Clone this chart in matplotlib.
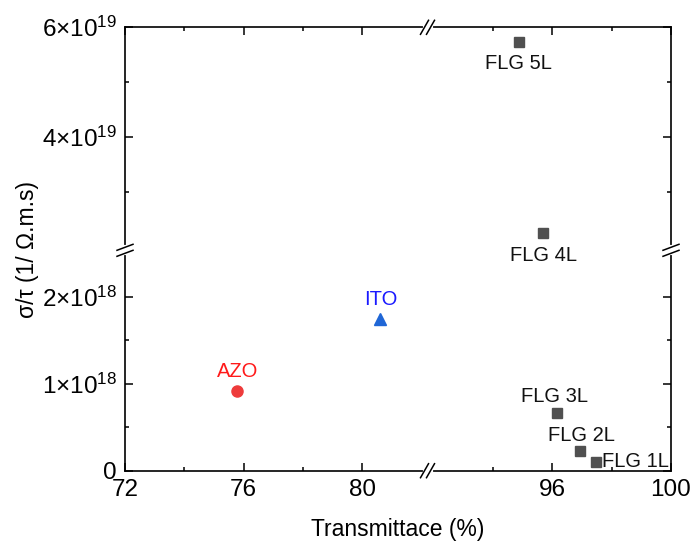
import numpy as np
import matplotlib
matplotlib.use("Agg")
import matplotlib.pyplot as plt
from matplotlib.ticker import FixedLocator, FixedFormatter

plt.rcParams['font.family'] = ['Liberation Sans', 'DejaVu Sans']
plt.rcParams['mathtext.default'] = 'regular'

# data
flg_names = ['FLG 1L', 'FLG 2L', 'FLG 3L', 'FLG 4L', 'FLG 5L']
flg_T = [97.48, 96.92, 96.16, 95.7, 94.86]
flg_s = [0.103e18, 0.23e18, 0.667e18, 2.25e19, 5.74e19]
azo_T, azo_s = [75.76], [0.92e18]
ito_T, ito_s = [80.61], [1.74e18]

x_ticks = [72, 76, 80, 96, 100]
x_minor = [74, 78, 94, 98]
y_ticks = [0, 1e18, 2e18, 4e19, 6e19]
y_labels = ['0', '1×10$^{18}$', '2×10$^{18}$', '4×10$^{19}$', '6×10$^{19}$']
y_minor = [0.5e18, 1.5e18, 3e19, 5e19]

# broken axes: piecewise linear scales
xk = np.array([72.0, 82.2, 91.8, 100.0])
xv = np.array([0.0, 10.2, 10.21, 18.41])
yk = np.array([0.0, 2.5e18, 2.0e19, 6.0e19])
yv = np.array([0.0, 2.5, 2.57, 2.57 + 4 * 0.632])


def pw(k, v):
    def f(a):
        a = np.asarray(a, dtype=float)
        out = np.interp(a, k, v)
        lo = a < k[0]
        hi = a > k[-1]
        out = np.where(lo, v[0] + (a - k[0]) * (v[1] - v[0]) / (k[1] - k[0]), out)
        out = np.where(hi, v[-1] + (a - k[-1]) * (v[-1] - v[-2]) / (k[-1] - k[-2]), out)
        return out
    return f


fig = plt.figure(figsize=(6.94, 5.43), dpi=100)
ax = fig.add_axes([125 / 694, 1 - 470.7 / 543, 546 / 694, 443.4 / 543])
ax.set_xscale('function', functions=(pw(xk, xv), pw(xv, xk)))
ax.set_yscale('function', functions=(pw(yk, yv), pw(yv, yk)))
ax.set_xlim(72, 100)
ax.set_ylim(0, 6e19)

sq = '#505050'
ax.plot(flg_T, flg_s, 's', color=sq, markersize=7.5, linestyle='none', clip_on=False)
ax.plot(azo_T, azo_s, 'o', color='#ee3b3b', markersize=8, linestyle='none')
ax.plot(ito_T, ito_s, '^', color='#1f66d6', markersize=9, linestyle='none')

fs = 14.5
off = {
    'FLG 5L': ((0, -16), 'center'),
    'FLG 4L': ((0, -16), 'center'),
    'FLG 3L': ((-2, 12), 'center'),
    'FLG 2L': ((1, 11), 'center'),
}
for n, t, s in zip(flg_names, flg_T, flg_s):
    if n == 'FLG 1L':
        ax.annotate(n, (t, s), xytext=(4, 0), textcoords='offset points',
                    ha='left', va='center', fontsize=fs, color='#111111')
    else:
        (dx, dy), ha = off[n]
        ax.annotate(n, (t, s), xytext=(dx, dy), textcoords='offset points',
                    ha=ha, va='center', fontsize=fs, color='#111111')
ax.annotate('AZO', (azo_T[0], azo_s[0]), xytext=(1, 14), textcoords='offset points',
            ha='center', va='center', fontsize=fs, color='#ff1a1a')
ax.annotate('ITO', (ito_T[0], ito_s[0]), xytext=(0, 14), textcoords='offset points',
            ha='center', va='center', fontsize=fs, color='#1a1aff')

ax.xaxis.set_major_locator(FixedLocator(x_ticks))
ax.xaxis.set_major_formatter(FixedFormatter([str(v) for v in x_ticks]))
ax.xaxis.set_minor_locator(FixedLocator(x_minor))
ax.yaxis.set_major_locator(FixedLocator(y_ticks))
ax.yaxis.set_major_formatter(FixedFormatter(y_labels))
ax.yaxis.set_minor_locator(FixedLocator(y_minor))

ax.tick_params(which='both', direction='in', top=True, right=True, width=1.1)
ax.tick_params(which='major', length=6, labelsize=17.5, pad=6)
ax.tick_params(which='minor', length=3)
for sp in ax.spines.values():
    sp.set_linewidth(1.2)

ax.set_xlabel('Transmittace (%)', fontsize=16.5, labelpad=12)
ax.set_ylabel('σ/τ (1/ Ω.m.s)', fontsize=16.5, labelpad=2)

# break marks
fig.canvas.draw()
inv = fig.transFigure.inverted()
xb = ax.transData.transform((82.2, 0))[0]
yb = ax.transData.transform((72, 1.1e19))[1]
x0, y0 = ax.transAxes.transform((0, 0))
x1, y1 = ax.transAxes.transform((1, 1))


def brk(cx, cy, horizontal):
    if horizontal:
        # on a horizontal spine: steep slashes
        segs = [((cx - 7, cy - 7), (cx + 1, cy + 7)), ((cx - 1, cy - 7), (cx + 7, cy + 7))]
        gap = ((cx - 3, cy), (cx + 3, cy))
    else:
        segs = [((cx - 8, cy - 6), (cx + 8, cy)), ((cx - 8, cy), (cx + 8, cy + 6))]
        gap = ((cx, cy - 3), (cx, cy + 3))
    g = inv.transform(gap)
    fig.add_artist(plt.Line2D(g[:, 0], g[:, 1], color='white', lw=3, zorder=5))
    for a, b in segs:
        p = inv.transform([a, b])
        fig.add_artist(plt.Line2D(p[:, 0], p[:, 1], color='black', lw=1.1, zorder=6))


brk(xb, y0, True)
brk(xb, y1, True)
brk(x0, yb, False)
brk(x1, yb, False)

fig.savefig('out.png', dpi=100)
